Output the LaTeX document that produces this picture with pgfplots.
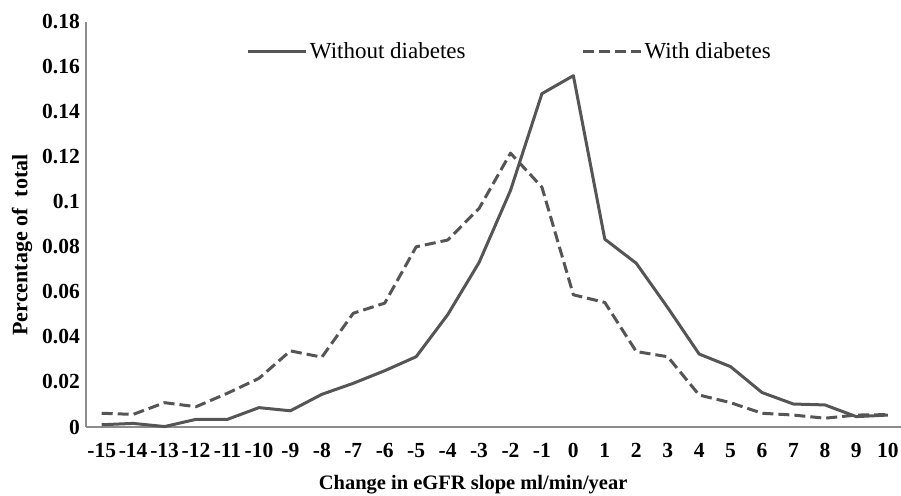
\documentclass[border=0pt]{standalone}
\usepackage{pgfplots}
\pgfplotsset{compat=1.18}
\usepackage{fontspec}
\setmainfont{Liberation Serif}
\definecolor{linegray}{RGB}{85,85,85}
\definecolor{axisgray}{RGB}{140,140,140}
\pgfplotstableread{
x nodiab diab
-15 0.0010 0.0061
-14 0.0016 0.0056
-13 0.0002 0.0108
-12 0.0034 0.0090
-11 0.0034 0.0150
-10 0.0086 0.0216
-9 0.0072 0.0338
-8 0.0145 0.0310
-7 0.0194 0.0505
-6 0.0250 0.0550
-5 0.0312 0.0800
-4 0.0498 0.0830
-3 0.0730 0.0970
-2 0.1050 0.1216
-1 0.1480 0.1065
0 0.1560 0.0587
1 0.0834 0.0553
2 0.0727 0.0335
3 0.0530 0.0312
4 0.0324 0.0142
5 0.0268 0.0108
6 0.0153 0.0061
7 0.0102 0.0053
8 0.0098 0.0039
9 0.0046 0.0053
10 0.0053 0.0055
}\datatable
\begin{document}
\begin{tikzpicture}
\begin{axis}[
  at={(0,0)}, anchor=south west,
  scale only axis, width=815pt, height=405.4pt,
  xmin=-15.5, xmax=10.42, ymin=0, ymax=0.18,
  axis lines*=left,
  axis line style={axisgray, line width=1.5pt},
  major tick length=0pt,
  xtick={-15,-14,-13,-12,-11,-10,-9,-8,-7,-6,-5,-4,-3,-2,-1,0,1,2,3,4,5,6,7,8,9,10},
  xticklabels={-15,-14,-13,-12,-11,-10,-9,-8,-7,-6,-5,-4,-3,-2,-1,0,1,2,3,4,5,6,7,8,9,10},
  ytick={0,0.02,0.04,0.06,0.08,0.1,0.12,0.14,0.16,0.18},
  yticklabels={0,0.02,0.04,0.06,0.08,0.1,0.12,0.14,0.16,0.18},
  ticklabel style={font=\bfseries\fontsize{21.5}{22}\selectfont, text=black},
  xticklabel style={inner sep=0pt, anchor=north, yshift=-16pt},
  yticklabel style={inner sep=0pt, anchor=east, xshift=-6pt},
  xlabel={Change in eGFR slope ml/min/year},
  xlabel style={font=\bfseries\fontsize{20.5}{22}\selectfont, at={(axis description cs:0.475,-0.143)}, anchor=center},
  ylabel={Percentage of\ \ total},
  ylabel style={font=\bfseries\fontsize{22}{24}\selectfont, at={(axis description cs:-0.0785,0.449)}, anchor=center},
  legend columns=2,
  legend style={draw=none, fill=none, inner sep=0pt, outer sep=0pt,
    at={(axis cs:-10.38,0.1667)}, anchor=west,
    font=\fontsize{23}{24}\selectfont,
    nodes={inner sep=2pt},
    /tikz/every even column/.append style={column sep=114pt}},
  legend image code/.code={\draw[#1] (0pt,0pt) -- (58pt,0pt);},
  clip=false,
]
\addplot[linegray, line width=3pt, line join=round] table[x=x, y=nodiab] {\datatable};
\addlegendentry{Without diabetes}
\addplot[linegray, line width=3pt, line join=round, dash pattern=on 11pt off 5pt] table[x=x, y=diab] {\datatable};
\addlegendentry{With diabetes}
\end{axis}
\pgfresetboundingbox
\useasboundingbox (-86pt,-68pt) rectangle (815pt,427pt);
\end{tikzpicture}
\end{document}
